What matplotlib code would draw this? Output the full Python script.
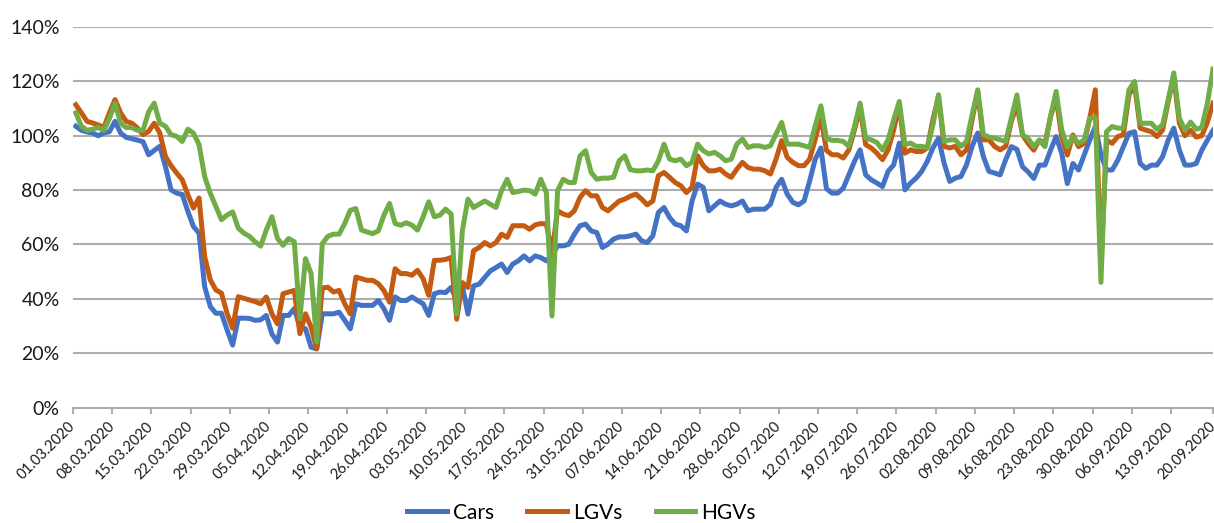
import matplotlib
matplotlib.use("Agg")
import matplotlib.pyplot as plt
import numpy as np
import pandas as pd

plt.rcParams["font.family"] = ["Lato", "DejaVu Sans"]

# daily index values, 01.03.2020 - 20.09.2020 (% of baseline)
cars = [
    103.5, 102.0, 101.4, 101.0, 100.0, 101.0, 101.5, 105.3, 101.0, 99.4,
    98.9, 98.4, 97.8, 93.0, 94.6, 96.1, 88.7, 80.1, 78.9, 78.4,
    72.2, 66.6, 64.2, 44.5, 37.2, 34.7, 34.7, 28.6, 23.0, 32.9,
    32.9, 32.8, 32.1, 32.3, 33.9, 27.1, 24.1, 33.9, 33.9, 36.4,
    29.6, 29.0, 22.2, 21.6, 34.5, 34.5, 34.5, 35.1, 32.1, 29.0,
    38.2, 37.6, 37.6, 37.6, 39.4, 36.4, 32.1, 40.7, 39.4, 39.4,
    40.7, 39.4, 38.2, 33.9, 41.9, 42.5, 42.3, 44.2, 39.3, 44.8,
    34.4, 44.8, 45.4, 47.9, 50.3, 51.5, 52.8, 49.7, 52.8, 54.0,
    55.8, 54.0, 55.8, 55.2, 54.0, 56.0, 59.5, 59.5, 60.1, 63.8,
    66.9, 67.5, 65.0, 64.4, 58.9, 60.1, 62.0, 62.8, 62.8, 63.2,
    63.8, 61.3, 60.7, 63.2, 71.8, 73.6, 69.9, 67.5, 66.9, 65.0,
    76.0, 82.2, 81.0, 72.4, 74.2, 76.0, 74.8, 74.2, 74.8, 76.0,
    72.4, 73.0, 73.0, 73.0, 74.8, 81.0, 84.0, 78.5, 75.5, 74.6,
    76.0, 83.4, 91.4, 95.5, 80.5, 78.9, 78.9, 80.7, 85.6, 90.6,
    94.8, 85.6, 83.8, 82.6, 81.3, 86.9, 89.3, 97.3, 80.1, 82.6,
    84.4, 86.9, 90.6, 95.5, 99.1, 89.9, 83.2, 84.4, 85.0, 89.3,
    96.1, 101.0, 92.4, 86.9, 86.3, 85.6, 91.2, 96.0, 95.0, 88.6,
    86.7, 84.3, 89.2, 89.2, 94.7, 99.7, 93.5, 82.4, 89.8, 87.4,
    92.9, 98.4, 103.4, 93.0, 87.4, 87.4, 91.0, 96.0, 100.9, 101.5,
    89.8, 88.0, 89.2, 89.2, 92.3, 98.4, 102.8, 94.7, 89.2, 89.2,
    89.8, 94.7, 98.4, 102.0,
]
lgvs = [
    111.4, 108.4, 105.3, 104.7, 104.0, 103.0, 108.4, 113.3, 108.4, 105.3,
    104.6, 102.9, 100.4, 101.6, 104.6, 101.0, 92.4, 89.0, 86.3, 83.8,
    78.3, 73.4, 77.1, 55.6, 47.0, 43.3, 42.1, 34.7, 29.2, 40.8,
    40.2, 39.6, 39.0, 38.2, 40.7, 34.5, 30.8, 41.9, 42.5, 43.1,
    27.2, 34.5, 29.6, 21.6, 44.0, 44.3, 42.5, 43.1, 38.2, 34.5,
    48.0, 47.4, 46.8, 46.8, 45.6, 43.1, 38.8, 51.1, 49.3, 49.3,
    48.7, 50.5, 47.4, 41.3, 54.2, 54.2, 54.5, 55.2, 32.5, 46.0,
    44.2, 57.7, 58.9, 60.7, 59.5, 60.7, 63.8, 62.6, 66.9, 66.9,
    66.9, 65.6, 67.2, 67.7, 67.5, 57.0, 72.4, 71.2, 70.6, 72.4,
    77.3, 79.8, 77.9, 77.9, 73.6, 72.4, 74.2, 76.0, 76.7, 77.8,
    78.5, 76.7, 74.6, 76.0, 85.3, 86.5, 84.7, 82.8, 81.6, 79.1,
    81.0, 92.6, 89.0, 87.1, 87.1, 87.7, 85.9, 84.7, 87.7, 90.2,
    88.3, 87.7, 87.7, 87.1, 85.9, 91.4, 98.2, 92.0, 90.2, 89.0,
    89.0, 91.4, 98.8, 107.0, 94.6, 93.0, 93.0, 91.8, 94.8, 102.2,
    110.2, 96.7, 95.5, 93.6, 91.2, 94.8, 102.2, 111.4, 93.6, 94.8,
    94.2, 94.2, 95.5, 105.9, 114.5, 96.1, 95.5, 96.1, 93.0, 94.8,
    105.9, 116.3, 98.5, 98.5, 96.1, 94.8, 96.1, 105.3, 111.4, 100.3,
    97.2, 94.7, 98.4, 97.2, 107.0, 114.0, 99.7, 92.9, 100.3, 96.0,
    97.2, 106.4, 116.9, 52.0, 98.4, 97.2, 99.7, 100.3, 115.1, 118.8,
    102.8, 102.1, 101.5, 99.7, 102.1, 112.6, 121.8, 104.6, 100.0, 102.0,
    99.5, 100.0, 105.0, 112.0,
]
hgvs = [
    108.4, 103.5, 102.0, 102.4, 103.0, 102.0, 106.3, 112.0, 104.6, 103.0,
    103.0, 102.0, 102.0, 108.8, 112.0, 104.6, 103.5, 100.4, 99.8, 97.9,
    102.4, 101.0, 96.7, 85.0, 78.9, 74.0, 69.1, 70.8, 72.0, 66.0,
    64.2, 63.0, 61.0, 59.4, 65.3, 70.2, 62.2, 59.7, 62.2, 61.0,
    32.7, 54.8, 49.3, 24.1, 60.3, 63.0, 63.8, 63.8, 67.7, 72.6,
    73.2, 65.3, 64.6, 64.0, 65.0, 70.8, 75.1, 67.7, 67.1, 68.0,
    67.1, 65.3, 70.2, 75.7, 70.2, 70.8, 73.0, 71.2, 34.4, 65.0,
    76.7, 73.6, 74.8, 76.0, 74.8, 73.6, 79.8, 84.0, 79.1, 79.5,
    80.0, 79.8, 78.5, 84.0, 79.1, 33.7, 79.8, 84.0, 82.8, 82.8,
    92.6, 94.5, 86.5, 84.0, 84.4, 84.4, 84.7, 90.8, 92.6, 87.5,
    87.1, 87.1, 87.4, 87.1, 90.8, 96.9, 91.4, 90.8, 91.4, 89.0,
    90.2, 96.9, 94.5, 93.3, 93.9, 92.6, 90.8, 91.4, 96.9, 98.8,
    95.7, 96.3, 96.3, 95.7, 96.3, 100.6, 104.9, 96.9, 96.9, 96.9,
    96.3, 95.7, 103.7, 111.0, 99.0, 98.3, 98.3, 97.9, 96.1, 103.4,
    112.0, 99.1, 98.5, 97.5, 94.8, 98.5, 105.9, 112.6, 96.7, 97.3,
    96.1, 96.1, 95.5, 104.0, 115.1, 97.9, 98.5, 98.5, 96.1, 97.9,
    107.7, 116.9, 100.4, 99.5, 99.1, 98.5, 97.9, 106.5, 115.0, 100.3,
    99.0, 96.0, 98.4, 96.0, 107.1, 116.3, 102.1, 96.0, 99.7, 97.2,
    98.4, 106.4, 106.8, 46.1, 101.5, 103.4, 102.8, 102.8, 116.9, 120.0,
    104.6, 104.6, 104.6, 102.4, 104.0, 113.2, 123.1, 106.4, 102.0, 105.0,
    102.4, 103.0, 112.0, 124.5,
]

dates = pd.date_range("2020-03-01", "2020-09-20", freq="D")
series = [("Cars", cars, "#4472C4"), ("LGVs", lgvs, "#C55A11"), ("HGVs", hgvs, "#70AD47")]

fig = plt.figure(figsize=(12.14, 5.23), dpi=100)
ax = fig.add_axes([73 / 1214, 1 - 407.6 / 523, 1140 / 1214, (407.6 - 27) / 523])

x = np.arange(len(dates))
for name, vals, col in series:
    ax.plot(x, vals, color=col, lw=3.6, label=name, solid_joinstyle="round")

ax.set_ylim(0, 140)
ax.set_xlim(-0.5, len(dates) - 1)
ax.set_yticks(np.arange(0, 141, 20))
ax.set_yticklabels([f"{v}%" for v in range(0, 141, 20)], fontsize=14, color="#1a1a1a")
ax.tick_params(axis="y", length=0, pad=9.6)
ax.grid(axis="y", color="#ADADAD", lw=1.5)
ax.set_axisbelow(True)

tick_pos = list(np.arange(0, len(dates) - 1, 7) - 0.5) + [len(dates) - 1]
tick_lab = [dates[i].strftime("%d.%m.%Y") for i in range(0, len(dates), 7)]
ax.set_xticks(tick_pos)
ax.set_xticklabels(tick_lab, rotation=45, ha="right", va="center",
                   rotation_mode="anchor", fontsize=10.5, color="#1a1a1a")
ax.tick_params(axis="x", length=4, width=1.5, color="#ADADAD", pad=8)

for s in ["top", "right", "left"]:
    ax.spines[s].set_visible(False)
ax.spines["bottom"].set_color("#ADADAD")
ax.spines["bottom"].set_linewidth(1.5)

fig.legend(loc="center", bbox_to_anchor=(0.479, 0.02), ncol=3, frameon=False,
           fontsize=15, handlelength=1.9, handletextpad=0.3, columnspacing=1.6)

fig.savefig("out.png", dpi=100)
